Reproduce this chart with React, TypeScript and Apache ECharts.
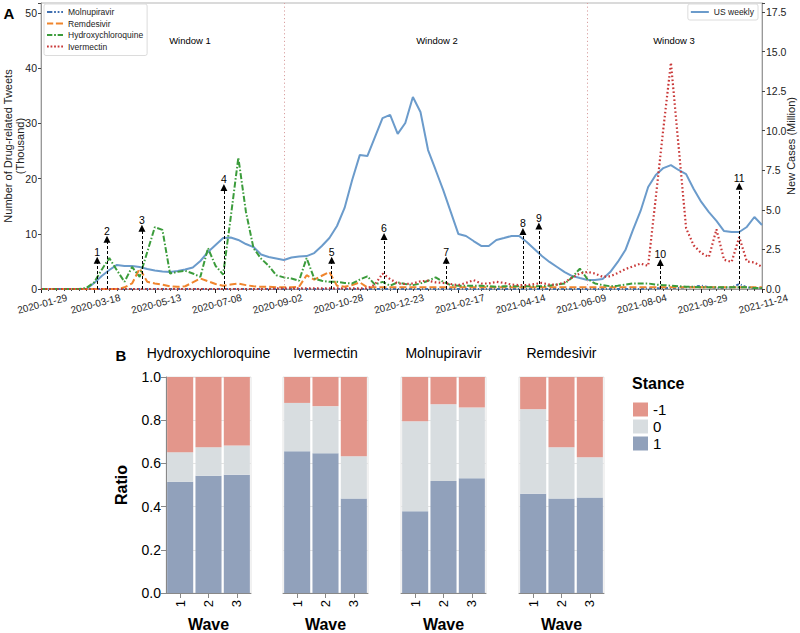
import React, { useEffect, useRef } from "react";
import * as echarts from "echarts";

// ---------- Panel A data (weekly, starting 2020-01-29) ----------
const weekLabels: string[] = [];
{
  const t0 = Date.UTC(2020, 0, 29);
  for (let i = 0; i < 96; i++) weekLabels.push(new Date(t0 + i * 7 * 86400000).toISOString().slice(0, 10));
}
const dateTickIndexes = [0, 7, 15, 23, 31, 39, 47, 55, 63, 71, 79, 87, 95];

// US weekly new cases (million), right axis
const usWeekly = [
  0, 0, 0, 0, 0, 0, 0, 0.38, 0.82, 1.2,
  1.52, 1.45, 1.45, 1.39, 1.26, 1.17, 1.1, 1.07, 1.14, 1.23,
  1.36, 1.77, 2.34, 2.78, 3.22, 3.25, 3.1, 2.84, 2.65, 2.18,
  2.02, 1.93, 1.83, 1.99, 2.05, 2.08, 2.27, 2.72, 3.22, 3.98,
  5.12, 6.89, 8.46, 8.4, 9.6, 10.8, 11.0, 9.8, 10.49, 12.13,
  11.18, 8.78, 7.52, 6.25, 4.86, 3.47, 3.35, 3.03, 2.72, 2.72,
  3.1, 3.22, 3.35, 3.35, 2.97, 2.53, 2.08, 1.71, 1.39, 1.07,
  0.82, 0.69, 0.57, 0.57, 0.63, 1.07, 1.71, 2.46, 3.73, 4.93,
  6.44, 7.2, 7.64, 7.83, 7.52, 7.26, 6.32, 5.5, 4.86, 4.3,
  3.66, 3.6, 3.6, 3.92, 4.55, 4.04,
];

// Drug-related tweets (thousand), left axis
const molnupiravir = [
  0, 0, 0, 0, 0, 0, 0, 0, 0, 0,
  0, 0, 0, 0, 0, 0, 0, 0, 0, 0,
  0, 0, 0, 0, 0, 0, 0, 0, 0, 0,
  0, 0, 0, 0, 0, 0, 0, 0, 0, 0,
  0, 0, 0, 0, 0, 0, 0, 0, 0, 0,
  0, 0, 0, 0, 0, 0, 0, 0, 0, 0,
  0, 0, 0, 0, 0, 0, 0, 0, 0, 0,
  0, 0, 0, 0, 0, 0, 0, 0, 0, 0,
  0.1, 0.1, 0.2, 0.2, 0.2, 0.3, 0.4, 0.6, 0.3, 0.2,
  0.2, 0.3, 0.9, 0.3, 0.2, 0.2,
];
const remdesivir = [
  0, 0, 0, 0, 0, 0, 0, 0, 0, 0,
  0, 0.3, 1.0, 3.7, 1.3, 1.0, 0.8, 0.5, 0.4, 0.5,
  1.2, 1.9, 1.4, 0.9, 0.6, 0.8, 1.0, 0.7, 0.5, 0.4,
  0.4, 0.3, 0.3, 0.3, 0.4, 2.5, 1.7, 2.4, 3.1, 0.6,
  0.4, 0.7, 1.2, 0.3, 0.3, 0.3, 0.3, 0.3, 0.3, 0.3,
  0.3, 0.3, 0.3, 0.3, 0.3, 0.3, 0.3, 0.3, 0.3, 0.3,
  0.3, 0.3, 0.3, 0.3, 0.3, 0.3, 0.3, 0.3, 0.3, 0.3,
  0.3, 0.3, 0.3, 0.3, 0.3, 0.3, 0.3, 0.3, 0.3, 0.3,
  0.3, 0.3, 0.3, 0.3, 0.3, 0.3, 0.3, 0.3, 0.3, 0.3,
  0.3, 0.3, 0.3, 0.3, 0.3, 0.3,
];
const hydroxychloroquine = [
  0, 0, 0, 0, 0, 0, 0.2, 1.2, 3.5, 5.6,
  3.4, 1.3, 4.0, 2.2, 6.7, 11.2, 10.7, 2.8, 3.1, 3.3,
  2.8, 2.2, 7.4, 4.2, 2.6, 13.0, 23.8, 14.0, 7.4, 5.5,
  4.2, 2.5, 2.1, 1.9, 1.5, 5.6, 1.9, 1.5, 1.3, 1.3,
  1.1, 1.0, 1.7, 2.3, 0.8, 1.3, 0.6, 1.2, 0.9, 0.7,
  1.0, 1.5, 2.1, 1.3, 0.7, 0.6, 0.6, 0.6, 0.6, 0.5,
  0.4, 0.5, 0.5, 0.5, 0.5, 0.5, 0.5, 0.6, 0.8, 1.0,
  2.1, 3.7, 1.8, 1.0, 0.7, 0.5, 0.6, 0.8, 1.0, 1.0,
  1.0, 0.8, 0.7, 0.6, 0.5, 0.4, 0.4, 0.3, 0.3, 0.3,
  0.3, 0.3, 0.3, 0.3, 0.2, 0.2,
];
const ivermectin = [
  0, 0, 0, 0, 0, 0, 0, 0, 0, 0,
  0, 0, 0, 0, 0, 0, 0, 0, 0, 0,
  0, 0, 0, 0, 0, 0, 0, 0, 0, 0,
  0, 0.1, 0.1, 0.1, 0.1, 0.1, 0.1, 0.1, 0.1, 0.1,
  0.1, 0.1, 0.1, 0.1, 0.8, 2.8, 1.8, 1.0, 0.9, 1.0,
  1.4, 1.5, 1.2, 1.1, 0.9, 0.7, 1.1, 1.6, 1.0, 1.0,
  1.3, 1.1, 0.8, 0.7, 0.7, 0.9, 1.1, 0.8, 0.8, 1.2,
  2.1, 2.8, 3.1, 2.8, 2.2, 2.3, 2.9, 3.6, 4.1, 4.6,
  4.2, 16.5, 29.0, 41.0, 26.0, 11.0, 7.9, 6.5, 5.8, 10.8,
  5.3, 4.9, 9.4, 5.0, 4.8, 4.0,
];

// Event arrows (week position, arrow-head height in thousand)
const eventIds = ["1", "2", "3", "4", "5", "6", "7", "8", "9", "10", "11"];
const eventWeeks = [7.4, 8.7, 13.3, 24.1, 38.3, 45.2, 53.4, 63.5, 65.6, 81.6, 92.0];
const eventHeights = [5.2, 9.0, 11.0, 18.4, 5.2, 9.5, 5.2, 10.4, 11.4, 4.8, 18.6];
const windowBreakWeeks = [32, 72];
const windowNames = ["Window 1", "Window 2", "Window 3"];

// ---------- Panel B data ----------
const drugs = ["Hydroxychloroquine", "Ivermectin", "Molnupiravir", "Remdesivir"];
const waves = ["1", "2", "3"];
const stances = ["-1", "0", "1"];
const stancePos = [
  [0.515, 0.543, 0.548],
  [0.656, 0.647, 0.438],
  [0.379, 0.519, 0.531],
  [0.46, 0.437, 0.442],
];
const stanceNeu = [
  [0.137, 0.132, 0.135],
  [0.224, 0.218, 0.195],
  [0.416, 0.355, 0.328],
  [0.391, 0.238, 0.186],
];
const stanceNeg = [
  [0.348, 0.325, 0.317],
  [0.12, 0.135, 0.367],
  [0.205, 0.126, 0.141],
  [0.149, 0.325, 0.372],
];

const FONT = "'Liberation Sans', Arial, Helvetica, sans-serif";
const C_US = "#6b9bcb";
const C_MOL = "#3f6fb0";
const C_REM = "#f0852d";
const C_HCQ = "#3b9c3b";
const C_IVM = "#c93838";
const C_NEG = "#e3968b";
const C_NEU = "#d8dde0";
const C_POS = "#91a1bb";

// legend line-style icons (dash patterns drawn as tiny rectangles)
const ICON_MOL = "path://M0,0h6v2h-6z M8,0h2v2h-2z M12,0h2v2h-2z M16,0h2v2h-2z";
const ICON_REM = "path://M0,0h7v2h-7z M10,0h8v2h-8z";
const ICON_HCQ = "path://M0,0h6v2h-6z M8,0h2v2h-2z M12,0h6v2h-6z";
const ICON_IVM = "path://M0,0h2v2h-2z M4,0h2v2h-2z M8,0h2v2h-2z M12,0h2v2h-2z M16,0h2v2h-2z";
const ICON_US = "path://M0,0h18v2h-18z";

const panelLefts = [166, 283, 401, 519];
const panelTop = 377;
const panelW = 85;
const panelH = 216;

export default function App() {
  const ref = useRef<HTMLDivElement>(null);
  useEffect(() => {
    if (!ref.current) return;
    const chart = echarts.init(ref.current, undefined, { renderer: "svg" });
    const isDateTick = (idx: number) => dateTickIndexes.indexOf(idx) >= 0;
    const toXY = (arr: number[]) => arr.map((v, i) => [i, v]);

    const drugLine = (name: string, data: number[], color: string, type: any, width = 2): any => ({
      name,
      type: "line",
      xAxisIndex: 0,
      yAxisIndex: 0,
      data: toXY(data),
      symbol: "none",
      color,
      lineStyle: { color, width, type },
      itemStyle: { color },
      z: 3,
    });

    const barSeries: any[] = [];
    drugs.forEach((_, k) => {
      const common = {
        type: "bar",
        stack: "p" + k,
        xAxisIndex: 3 + k,
        yAxisIndex: 2 + k,
        barCategoryGap: "8%",
      };
      barSeries.push({ ...common, name: "1", data: stancePos[k], itemStyle: { color: C_POS } });
      barSeries.push({ ...common, name: "0", data: stanceNeu[k], itemStyle: { color: C_NEU } });
      barSeries.push({ ...common, name: "-1", data: stanceNeg[k], itemStyle: { color: C_NEG } });
    });

    const option: any = {
      animation: false,
      textStyle: { fontFamily: FONT },
      grid: [
        { left: 41, top: 3, width: 721, height: 286, show: true, borderColor: "#b5b5b5", borderWidth: 1, outerBoundsMode: "none", containLabel: false },
        ...panelLefts.map((l) => ({
          left: l,
          top: panelTop,
          width: panelW,
          height: panelH,
          show: true,
          borderColor: "#e4e4e4",
          borderWidth: 1,
          outerBoundsMode: "none",
          containLabel: false,
        })),
      ],
      xAxis: [
        { type: "value", gridIndex: 0, min: 0, max: 95, show: false },
        {
          type: "category",
          gridIndex: 0,
          position: "bottom",
          data: weekLabels,
          boundaryGap: false,
          axisLine: { show: true, lineStyle: { color: "#999" } },
          axisTick: { show: true, interval: 0, length: 2, lineStyle: { color: "#444" } },
          axisLabel: { show: false },
          splitLine: { show: false },
        },
        {
          type: "category",
          gridIndex: 0,
          position: "bottom",
          data: weekLabels,
          boundaryGap: false,
          axisLine: { show: false },
          axisTick: { show: true, interval: (i: number) => isDateTick(i), length: 4, lineStyle: { color: "#222" } },
          axisLabel: {
            interval: (i: number) => isDateTick(i),
            rotate: 15,
            align: "center",
            verticalAlign: "top",
            margin: 10,
            fontSize: 10,
            color: "#222",
          },
          splitLine: { show: false },
        },
        ...drugs.map((_, k) => ({
          type: "category",
          gridIndex: 1 + k,
          data: waves,
          axisLine: { show: true, lineStyle: { color: "#888" } },
          axisTick: { show: true, alignWithLabel: true, length: 5, lineStyle: { color: "#888" } },
          axisLabel: { rotate: 90, fontSize: 13, color: "#000", margin: 7 },
          name: "Wave",
          nameLocation: "middle",
          nameGap: 23,
          nameTextStyle: { fontWeight: "bold", fontSize: 16, color: "#000" },
        })),
      ],
      yAxis: [
        {
          type: "value",
          gridIndex: 0,
          position: "left",
          min: 0,
          max: 51.8,
          interval: 10,
          axisLine: { show: true, lineStyle: { color: "#999" } },
          axisTick: { show: true, length: 3, lineStyle: { color: "#444" } },
          axisLabel: {
            fontSize: 10.5,
            color: "#222",
            margin: 4,
            formatter: (v: number) => (Math.abs(v % 10) < 1e-6 ? String(v) : ""),
          },
          splitLine: { show: false },
        },
        {
          type: "value",
          gridIndex: 0,
          position: "right",
          min: 0,
          max: 18.07,
          interval: 2.5,
          axisLine: { show: true, lineStyle: { color: "#999" } },
          axisTick: { show: true, length: 3, lineStyle: { color: "#444" } },
          axisLabel: {
            fontSize: 10.5,
            color: "#222",
            margin: 4,
            formatter: (v: number) => {
              const q = v / 2.5;
              return Math.abs(q - Math.round(q)) < 1e-6 ? v.toFixed(1) : "";
            },
          },
          splitLine: { show: false },
        },
        ...drugs.map((_, k) => ({
          type: "value",
          gridIndex: 1 + k,
          min: 0,
          max: 1,
          interval: 0.2,
          axisLine: { show: k === 0, lineStyle: { color: "#888" } },
          axisTick: { show: k === 0, length: 5, lineStyle: { color: "#888" } },
          axisLabel: { show: k === 0, fontSize: 14, color: "#000", margin: 5, formatter: (v: number) => v.toFixed(1) },
          splitLine: { show: true, lineStyle: { color: "#e4e4e4" } },
          name: k === 0 ? "Ratio" : "",
          nameLocation: "middle",
          nameGap: 37,
          nameTextStyle: { fontWeight: "bold", fontSize: 16, color: "#000" },
        })),
      ],
      legend: [
        {
          data: [
            { name: "Molnupiravir", icon: ICON_MOL },
            { name: "Remdesivir", icon: ICON_REM },
            { name: "Hydroxychloroquine", icon: ICON_HCQ },
            { name: "Ivermectin", icon: ICON_IVM },
          ],
          orient: "vertical",
          left: 44,
          top: 4,
          itemWidth: 16,
          itemHeight: 2,
          itemGap: 1.5,
          padding: [3, 4, 4, 3],
          borderColor: "#dcdcdc",
          borderWidth: 1,
          borderRadius: 2,
          selectedMode: false,
          textStyle: { fontSize: 8.5, color: "#222", lineHeight: 10 },
        },
        {
          data: [{ name: "US weekly", icon: ICON_US }],
          right: 42,
          top: 4,
          itemWidth: 18,
          itemHeight: 2,
          padding: [3, 4, 3, 3],
          borderColor: "#dcdcdc",
          borderWidth: 1,
          borderRadius: 2,
          selectedMode: false,
          textStyle: { fontSize: 8.5, color: "#222", lineHeight: 10 },
        },
        {
          data: stances,
          orient: "vertical",
          left: 633,
          top: 402,
          padding: 0,
          itemWidth: 15,
          itemHeight: 14,
          itemGap: 2,
          icon: "rect",
          selectedMode: false,
          textStyle: { fontSize: 15, color: "#000" },
        },
      ],
      series: [
        {
          name: "US weekly",
          type: "line",
          xAxisIndex: 0,
          yAxisIndex: 1,
          data: toXY(usWeekly),
          symbol: "none",
          color: C_US,
          lineStyle: { color: C_US, width: 2 },
          itemStyle: { color: C_US },
          z: 2,
          markLine: {
            silent: true,
            symbol: ["none", "none"],
            label: { show: false },
            lineStyle: { color: "#d9a0a0", type: [1.2, 2.6], width: 1 },
            data: windowBreakWeeks.map((w) => ({ xAxis: w })),
          },
        },
        drugLine("Molnupiravir", molnupiravir, C_MOL, [3, 2, 1, 2]),
        drugLine("Remdesivir", remdesivir, C_REM, [7, 3]),
        drugLine("Hydroxychloroquine", hydroxychloroquine, C_HCQ, [6, 2, 1.5, 2]),
        drugLine("Ivermectin", ivermectin, C_IVM, [1.6, 2.4], 2.2),
        {
          name: "events",
          type: "line",
          xAxisIndex: 0,
          yAxisIndex: 0,
          data: [],
          symbol: "none",
          z: 5,
          markLine: {
            silent: true,
            symbol: ["none", "triangle"],
            symbolSize: 7,
            lineStyle: { color: "#000", type: [3, 2], width: 1 },
            label: { show: true, position: "end", formatter: "{b}", color: "#000", fontSize: 10.5, distance: 3 },
            data: eventIds.map((id, i) => [
              { name: id, coord: [eventWeeks[i], 0] },
              { coord: [eventWeeks[i], eventHeights[i]] },
            ]),
          },
        },
        ...barSeries,
      ],
      graphic: [
        { type: "text", x: 9, y: 13, style: { text: "A", font: `bold 15px ${FONT}`, fill: "#000", textAlign: "center", textVerticalAlign: "middle" } },
        { type: "text", x: 121, y: 355, style: { text: "B", font: `bold 15px ${FONT}`, fill: "#000", textAlign: "center", textVerticalAlign: "middle" } },
        {
          type: "text",
          x: 14,
          y: 146,
          rotation: Math.PI / 2,
          style: {
            text: "Number of Drug-related Tweets\n(Thousand)",
            font: `11px ${FONT}`,
            lineHeight: 12,
            fill: "#222",
            textAlign: "center",
            textVerticalAlign: "middle",
          },
        },
        {
          type: "text",
          x: 791,
          y: 146,
          rotation: Math.PI / 2,
          style: { text: "New Cases (Million)", font: `11px ${FONT}`, fill: "#222", textAlign: "center", textVerticalAlign: "middle" },
        },
        ...windowNames.map((t, i) => ({
          type: "text",
          x: [190, 437, 674][i],
          y: 40,
          style: { text: t, font: `9.5px ${FONT}`, fill: "#000", textAlign: "center", textVerticalAlign: "middle" },
        })),
        ...drugs.map((d, k) => ({
          type: "text",
          x: panelLefts[k] + panelW / 2,
          y: 353,
          style: { text: d, font: `14px ${FONT}`, fill: "#000", textAlign: "center", textVerticalAlign: "middle" },
        })),
        { type: "text", x: 632, y: 383, style: { text: "Stance", font: `bold 16px ${FONT}`, fill: "#000", textAlign: "left", textVerticalAlign: "middle" } },
      ],
    };
    chart.setOption(option);
    return () => chart.dispose();
  }, []);
  return <div ref={ref} style={{ position: "fixed", left: 0, top: 0, width: 800, height: 633, background: "#fff" }} />;
}
